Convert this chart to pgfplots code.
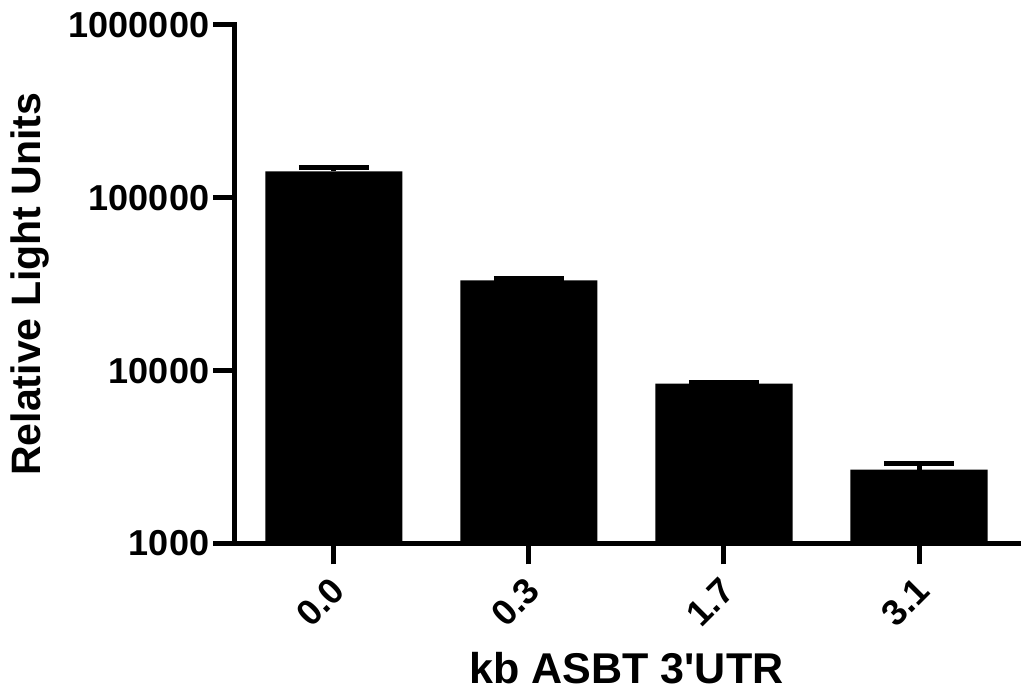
\documentclass[border=0pt]{standalone}
\usepackage{fontspec}
\setmainfont{Liberation Sans}
\usepackage{pgfplots}
\pgfplotsset{compat=1.18}

% relative light units per construct (mean, +SEM)
\pgfplotstableread{
x  y       e
0  141800  7500
1  33200   700
2  8410    110
3  2674    210
}\rludata

\begin{document}
\begin{tikzpicture}
\begin{axis}[
  scale only axis,
  width=783pt, height=518pt,
  ymode=log, log origin=infty,
  ymin=1000, ymax=1000000,
  xmin=-0.51, xmax=3.51,
  axis x line*=bottom, axis y line*=left,
  axis line style={-, line width=5pt, line cap=rect},
  every tick/.style={black, line width=5pt},
  tick align=outside, major tick length=21pt,
  minor tick num=0, minor tick length=0pt,
  ytick={1000,10000,100000,1000000},
  yticklabels={1000,10000,100000,1000000},
  xtick={0,1,2,3},
  xticklabels={0.0,0.3,1.7,3.1},
  xticklabel style={xshift=-5pt, yshift=-8pt, rotate=45, anchor=north east, inner sep=2pt},
  yticklabel style={inner sep=4pt},
  tick label style={font=\fontsize{36}{40}\selectfont\bfseries},
  ylabel={Relative Light Units},
  xlabel={kb ASBT 3\textquotesingle UTR},
  every axis y label/.style={at={(axis description cs:0,0.5)}, rotate=90,
    anchor=base, yshift=194pt, font=\fontsize{41}{46}\selectfont\bfseries},
  every axis x label/.style={at={(axis description cs:0.5,0)},
    anchor=base, yshift=-140pt, font=\fontsize{43}{48}\selectfont\bfseries},
]
\addplot[ybar, bar width=0.703, fill=black, draw=none,
  error bars/.cd, y dir=plus, y explicit,
  error bar style={line width=5pt, black},
  error mark options={rotate=90, mark size=35pt, line width=5pt, black}]
  table[x=x, y=y, y error=e] {\rludata};
\end{axis}
% white margin as in the reference
\path ([xshift=-7pt,yshift=8pt]current bounding box.north west);
\path ([yshift=-4pt]current bounding box.south east);
\end{tikzpicture}
\end{document}
